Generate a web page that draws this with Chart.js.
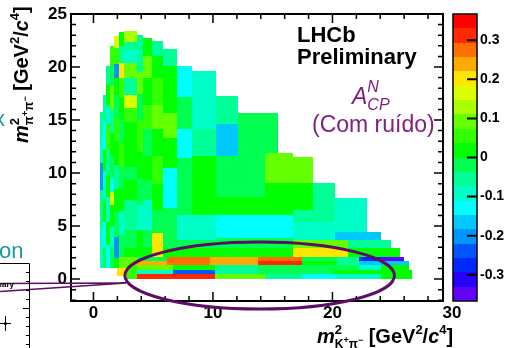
<!DOCTYPE html>
<html>
<head>
<meta charset="utf-8">
<script src="https://cdn.jsdelivr.net/npm/chart.js@4.4.1/dist/chart.umd.min.js"></script>
<style>
  html, body { margin: 0; padding: 0; background: #fff; }
</style>
</head>
<body>
<canvas id="dalitz" width="507" height="348"></canvas>
<script>
// axis ticks
const xTicks = [0, 10, 20, 30];
const yTicks = [0, 5, 10, 15, 20, 25];
const zTicks = [-0.3, -0.2, -0.1, 0, 0.1, 0.2, 0.3];
const xRange = [-1.88, 29.25];
const yRange = [-2.07, 25.0];
const zRange = [-0.367, 0.367];
const nBands = 20;

// bins: [m2(K+pi-) lo, hi, m2(pi+pi-) lo, hi, A_CP^N]
const binsLeft = [
  [0.54,0.79,1.04,4.8,-0.09],[0.54,0.79,4.8,8.4,-0.05],[0.54,0.79,8.4,10.9,-0.2],
  [0.54,0.79,10.9,13.3,-0.09],[0.54,0.79,13.3,15.8,-0.05],
  [0.79,1.04,1.04,3.0,-0.02],[0.79,1.04,3.0,5.4,-0.13],[0.79,1.04,5.4,7.5,0.02],
  [0.79,1.04,7.5,10.2,-0.09],[0.79,1.04,10.2,12.2,0.02],[0.79,1.04,12.2,14.8,-0.13],
  [0.79,1.04,14.8,17.4,-0.05],
  [1.04,1.38,1.04,3.2,-0.13],[1.04,1.38,3.2,5.4,0.02],[1.04,1.38,5.4,7.7,-0.09],
  [1.04,1.38,7.7,9.8,0.02],[1.04,1.38,9.8,12.2,-0.05],[1.04,1.38,12.2,14.6,0.05],
  [1.04,1.38,14.6,16.4,-0.09],[1.04,1.38,16.4,18.4,0.02],[1.04,1.38,18.4,20.1,-0.05],
  [1.38,1.71,1.04,3.0,-0.02],[1.38,1.71,3.0,5.0,-0.09],[1.38,1.71,5.0,7.0,0.02],
  [1.38,1.71,7.0,8.2,0.15],[1.38,1.71,8.2,9.5,-0.13],[1.38,1.71,9.5,11.6,-0.02],
  [1.38,1.71,11.6,13.8,0.02],[1.38,1.71,13.8,16.0,-0.05],[1.38,1.71,16.0,18.2,0.09],
  [1.38,1.71,18.2,20.2,-0.02],[1.38,1.71,20.2,22.0,0.05],
  [1.71,2.13,1.04,2.0,0.02],[1.71,2.13,2.0,4.0,-0.2],[1.71,2.13,4.0,6.3,-0.02],
  [1.71,2.13,6.3,8.5,0.02],[1.71,2.13,8.5,10.8,-0.05],[1.71,2.13,10.8,13.0,0.02],
  [1.71,2.13,13.0,15.2,0.05],[1.71,2.13,15.2,17.4,-0.02],[1.71,2.13,17.4,19.0,0.02],
  [1.71,2.13,19.0,20.3,-0.22],[1.71,2.13,20.3,21.8,0.05],[1.71,2.13,21.8,22.9,0.17],
  [2.13,2.55,2.08,4.2,-0.02],[2.13,2.55,4.2,6.4,-0.09],[2.13,2.55,6.4,8.6,0.02],
  [2.13,2.55,8.6,10.6,-0.02],[2.13,2.55,10.6,12.8,0.05],[2.13,2.55,12.8,15.0,-0.02],
  [2.13,2.55,15.0,17.2,0.02],[2.13,2.55,17.2,19.0,0.05],[2.13,2.55,19.0,20.4,0.19],
  [2.13,2.55,20.4,22.0,-0.05],[2.13,2.55,22.0,23.3,0.02],
  [2.55,3.63,2.92,4.6,-0.02],[2.55,3.63,4.6,7.5,-0.05],[2.55,3.63,7.5,9.3,0.02],
  [2.55,3.63,9.3,10.6,-0.02],[2.55,3.63,10.6,14.8,0.02],[2.55,3.63,14.8,16.1,0.04],
  [2.55,3.63,16.1,17.4,0.18],[2.55,3.63,17.4,19.0,-0.05],[2.55,3.63,19.0,20.4,0.09],
  [2.55,3.63,20.4,21.6,-0.09],[2.55,3.63,21.6,22.4,-0.05],[2.55,3.63,22.4,23.4,0.13],
  [3.63,4.14,2.92,4.6,0.02],[3.63,4.14,4.6,7.0,-0.09],[3.63,4.14,7.0,9.5,-0.02],
  [3.63,4.14,9.5,12.0,0.02],[3.63,4.14,12.0,15.0,0.05],[3.63,4.14,15.0,17.5,-0.02],
  [3.63,4.14,17.5,19.5,0.09],[3.63,4.14,19.5,21.5,-0.04],[3.63,4.14,21.5,23.0,-0.07],
  [4.14,4.89,2.92,4.6,-0.02],[4.14,4.89,4.6,7.45,-0.11],[4.14,4.89,7.45,9.3,-0.02],
  [4.14,4.89,9.3,11.6,0.02],[4.14,4.89,11.6,14.2,-0.02],[4.14,4.89,14.2,16.4,0.05],
  [4.14,4.89,16.4,19.0,0.02],[4.14,4.89,19.0,21.0,0.09],[4.14,4.89,21.0,22.7,0.02],
  [4.89,5.81,2.08,4.3,0.19],[4.89,5.81,4.3,6.5,-0.02],[4.89,5.81,6.5,9.0,0.02],
  [4.89,5.81,9.0,11.6,0.05],[4.89,5.81,11.6,14.2,0.02],[4.89,5.81,14.2,16.4,0.09],
  [4.89,5.81,16.4,19.0,0.05],[4.89,5.81,19.0,21.0,0.02],[4.89,5.81,21.0,22.5,-0.05],
  [5.81,6.98,3.68,6.7,-0.03],[5.81,6.98,6.7,10.5,-0.13],[5.81,6.98,10.5,13.3,0.02],
  [5.81,6.98,13.3,15.7,0.1],[5.81,6.98,15.7,17.2,0.02],[5.81,6.98,17.2,20.1,0.02],
  [5.81,6.98,20.1,21.7,-0.05]
];

const binsRight = [
  [6.98,8.23,6.04,11.4,-0.02],[6.98,8.23,11.4,14.2,-0.13],[6.98,8.23,14.2,17.2,-0.03],
  [6.98,8.23,17.2,20.1,-0.13],
  [8.23,10.23,6.04,7.7,0.02],[8.23,10.23,7.7,11.6,0.01],[8.23,10.23,11.6,14.2,-0.05],
  [8.23,10.23,14.2,16.6,-0.08],[8.23,10.23,16.6,19.6,-0.09],
  [10.23,12.07,6.04,7.7,0.02],[10.23,12.07,7.7,10.2,-0.03],[10.23,12.07,10.2,11.6,-0.02],
  [10.23,12.07,11.6,14.6,-0.18],[10.23,12.07,14.6,17.3,-0.05],
  [12.07,14.33,6.04,7.7,0.02],[12.07,14.33,7.7,11.9,-0.03],[12.07,14.33,11.9,15.7,-0.02],
  [14.33,15.41,6.04,9.1,0.02],[14.33,15.41,9.1,11.9,0.09],[14.33,15.41,11.9,15.7,-0.02],
  [15.41,16.67,6.04,9.1,0.02],[15.41,16.67,9.1,11.9,0.09],
  [16.67,18.34,5.38,6.5,-0.06],[16.67,18.34,6.5,9.1,0.02],[16.67,18.34,9.1,11.5,0.09],
  [18.34,20.2,5.38,9.06,-0.055],
  [20.2,22.93,4.43,7.64,-0.09],[20.2,24.1,3.68,4.43,-0.165],
  [16.67,20.2,3.68,5.38,-0.09],[6.98,10.23,3.68,6.04,-0.09],[10.23,16.67,3.87,6.04,-0.13],
  [5.81,10.23,2.92,3.68,-0.03],[10.23,16.67,2.92,3.87,-0.02],
  [16.67,21.26,2.92,3.68,0.09],[21.26,24.93,2.92,3.68,-0.055]
];

const binsLow = [
  [2.55,4.89,2.08,2.92,0.02],[5.81,16.67,2.08,2.92,0.02],[16.67,21.26,2.08,2.92,0.2],
  [21.26,25.69,2.08,2.92,0.02],[2.13,2.80,1.04,2.08,0.09],[1.96,2.80,0.28,1.04,0.2],
  [2.80,3.63,1.70,2.08,0.09],[3.63,6.14,1.70,2.08,-0.03],[6.14,9.73,1.70,2.08,0.28],
  [9.73,13.74,1.70,2.08,0.24],[13.74,17.42,1.70,2.08,0.28],[17.42,20.34,1.70,2.08,-0.015],
  [20.34,22.26,1.70,2.08,-0.07],[22.26,24.1,1.70,2.08,-0.275],[24.1,26.02,1.70,2.08,-0.34],
  [2.80,3.63,1.32,1.70,0.09],[3.63,6.14,1.32,1.70,0.24],[6.14,9.73,1.32,1.70,0.28],
  [9.73,13.74,1.32,1.70,0.24],[13.74,17.42,1.32,1.70,0.31],[17.42,20.34,1.32,1.70,0.01],
  [20.34,22.26,1.32,1.70,-0.07],[22.26,26.44,1.32,1.70,-0.165],
  [2.80,3.63,0.85,1.32,0.05],[3.63,6.64,0.85,1.32,0.09],[6.64,10.15,0.85,1.32,0.02],
  [10.15,13.74,0.85,1.32,-0.055],[13.74,22.26,0.85,1.32,-0.02],[22.26,24.1,0.85,1.32,-0.11],
  [24.1,26.44,0.85,1.32,0.01],
  [2.80,3.63,0.47,0.85,0.05],[3.63,6.64,0.47,0.85,-0.09],[6.64,10.15,0.47,0.85,-0.25],
  [10.15,13.74,0.47,0.85,-0.07],[13.74,20.01,0.47,0.85,-0.02],[20.01,24.1,0.47,0.85,0.01],
  [24.1,26.69,0.47,0.85,0.02],
  [2.80,3.63,0.05,0.47,0.05],[3.63,6.64,0.05,0.47,0.31],[6.64,10.15,0.05,0.47,0.31],
  [10.15,14.33,0.05,0.47,0.1],[14.33,17.42,0.05,0.47,-0.06],[17.42,20.34,0.05,0.47,-0.13],
  [20.34,24.1,0.05,0.47,-0.08],[24.1,26.69,0.05,0.47,0.02]
];

// highlighted region (ellipse) and zoom lines, in axis units
const ellipseCentre = [13.91, 0.33];
const ellipseRadii = [11.28, 3.16];
const zoomFrom = [2.72, -0.38];
const zoomTo = [[-7.81, -0.42], [-7.81, -1.18]];

// ROOT-like rainbow palette, most negative first
const palette = ['#6400ff','#2800ff','#0028ff','#0055ff','#0096ff','#00c8ff','#00ffff','#00ffc8',
  '#00ff96','#00ff50','#00ff00','#32ff00','#64ff00','#aaff00','#dcff00','#ffe600','#ffaa00',
  '#ff6e00','#ff2800','#ff0000'];

const F = '"Liberation Sans", Arial, Helvetica, sans-serif';
const purple = '#80207f';
const teal = '#1c98a3';

function colourOf(v) {
  let i = Math.floor((v - zRange[0]) / (zRange[1] - zRange[0]) * nBands);
  return palette[Math.max(0, Math.min(nBands - 1, i))];
}

function runs(ctx, x, y, list) {
  let cx = x;
  for (const r of list) {
    if (r.stack) {
      cx += Math.max(...r.stack.map(s => runs(ctx, cx, y, s)));
    } else {
      ctx.font = r.f;
      ctx.fillText(r.t, cx, y + (r.dy || 0));
      cx += ctx.measureText(r.t).width;
    }
  }
  return cx - x;
}

function titleRuns(sub) {
  const big = `bold 20px ${F}`, it = `italic bold 20px ${F}`, sup = `bold 13px ${F}`;
  return [
    {t: 'm', f: it},
    {stack: [[{t: '2', f: sup, dy: -9}], sub]},
    {t: ' [GeV', f: big}, {t: '2', f: sup, dy: -9}, {t: '/', f: big},
    {t: 'c', f: it}, {t: '4', f: sup, dy: -9}, {t: ']', f: big}
  ];
}
const s12 = `bold 12px ${F}`, s8 = `bold 9px ${F}`;
const subPiPi = [{t: 'π', f: s12, dy: 5}, {t: '+', f: s8, dy: 0}, {t: 'π', f: s12, dy: 5}, {t: '−', f: s8, dy: 0}];
const subKPi = [{t: 'K', f: s12, dy: 5}, {t: '+', f: s8, dy: 0}, {t: 'π', f: s12, dy: 5}, {t: '−', f: s8, dy: 0}];

const cells = [...binsLeft, ...binsRight, ...binsLow].map(b => ({
  x: (b[0] + b[1]) / 2, y: (b[2] + b[3]) / 2, x0: b[0], x1: b[1], y0: b[2], y1: b[3], v: b[4]
}));

const dalitzPlot = {
  id: 'dalitzPlot',
  beforeDraw(chart) {
    const ctx = chart.ctx;
    ctx.save();
    ctx.fillStyle = '#fff';
    ctx.fillRect(0, 0, chart.width, chart.height);
    ctx.restore();
  },
  beforeDatasetsDraw(chart) {
    const {ctx, scales: {x, y}} = chart;
    ctx.save();
    chart.data.datasets[0].data.forEach(c => {
      const l = Math.round(x.getPixelForValue(c.x0)), r = Math.round(x.getPixelForValue(c.x1));
      const t = Math.round(y.getPixelForValue(c.y1)), b = Math.round(y.getPixelForValue(c.y0));
      ctx.fillStyle = colourOf(c.v);
      ctx.fillRect(l, t, r - l, b - t);
    });
    ctx.restore();
  },
  afterDraw(chart) {
    const {ctx, chartArea: a, scales: {x, y, z}} = chart;
    ctx.save();
    ctx.strokeStyle = '#000';
    ctx.fillStyle = '#000';

    // ticks (inside the frame, all four sides)
    ctx.lineWidth = 1.5;
    ctx.beginPath();
    for (let v = -2; v <= 30; v += 2) {
      if (v < xRange[0] || v > xRange[1]) continue;
      const p = x.getPixelForValue(v), len = v % 10 === 0 ? 9 : 5;
      ctx.moveTo(p, a.bottom); ctx.lineTo(p, a.bottom - len);
      ctx.moveTo(p, a.top); ctx.lineTo(p, a.top + len);
    }
    for (let v = -2; v <= 25; v += 1) {
      if (v < yRange[0] || v > yRange[1]) continue;
      const p = y.getPixelForValue(v), len = v % 5 === 0 ? 9 : 5;
      ctx.moveTo(a.left, p); ctx.lineTo(a.left + len, p);
      ctx.moveTo(a.right, p); ctx.lineTo(a.right - len, p);
    }
    ctx.stroke();

    // frame
    ctx.lineWidth = 2;
    ctx.strokeRect(a.left, a.top, a.right - a.left, a.bottom - a.top);

    // tick labels
    ctx.font = `bold 17px ${F}`;
    ctx.textAlign = 'right';
    ctx.textBaseline = 'middle';
    yTicks.forEach(v => ctx.fillText(String(v), a.left - 4, y.getPixelForValue(v)));
    ctx.textAlign = 'center';
    ctx.textBaseline = 'top';
    xTicks.forEach(v => ctx.fillText(String(v), x.getPixelForValue(v), a.bottom + 4));

    // axis titles
    ctx.textAlign = 'left';
    ctx.textBaseline = 'alphabetic';
    runs(ctx, 317, 343, titleRuns(subKPi));
    ctx.save();
    ctx.translate(28, 143);
    ctx.rotate(-Math.PI / 2);
    runs(ctx, 0, 0, titleRuns(subPiPi));
    ctx.restore();

    // colour bar
    const bl = a.right + 10, br = a.right + 34;
    const step = (zRange[1] - zRange[0]) / nBands;
    for (let i = 0; i < nBands; i++) {
      const lo = z.getPixelForValue(zRange[0] + i * step), hi = z.getPixelForValue(zRange[0] + (i + 1) * step);
      ctx.fillStyle = palette[i];
      ctx.fillRect(bl, Math.round(hi), br - bl, Math.round(lo) - Math.round(hi));
    }
    ctx.lineWidth = 1.5;
    ctx.strokeRect(bl, z.top, br - bl, z.bottom - z.top);
    ctx.lineWidth = 2;
    ctx.beginPath();
    zTicks.forEach(v => { const p = z.getPixelForValue(v); ctx.moveTo(br, p); ctx.lineTo(br - 10, p); });
    ctx.stroke();
    ctx.fillStyle = '#000';
    ctx.font = `bold 14px ${F}`;
    ctx.textBaseline = 'middle';
    zTicks.forEach(v => ctx.fillText(v === 0 ? '0' : v.toFixed(1), br + 3, z.getPixelForValue(v)));

    // LHCb label
    ctx.textBaseline = 'alphabetic';
    ctx.font = `bold 22px ${F}`;
    ctx.fillText('LHCb', 297, 42);
    ctx.fillText('Preliminary', 297, 64);

    // observable label
    ctx.fillStyle = purple;
    runs(ctx, 352, 104, [
      {t: 'A', f: `italic 23px ${F}`},
      {stack: [[{t: 'N', f: `italic 16px ${F}`, dy: -12}], [{t: 'CP', f: `italic 16px ${F}`, dy: 6}]]}
    ]);
    ctx.font = `23px ${F}`;
    ctx.fillText('(Com ruído)', 312, 132);

    // highlighted region and zoom lines
    const cx = x.getPixelForValue(ellipseCentre[0]), cy = y.getPixelForValue(ellipseCentre[1]);
    const rx = x.getPixelForValue(ellipseCentre[0] + ellipseRadii[0]) - cx;
    const ry = cy - y.getPixelForValue(ellipseCentre[1] + ellipseRadii[1]);
    ctx.strokeStyle = '#5e0c66';
    ctx.lineWidth = 3;
    ctx.beginPath();
    ctx.ellipse(cx, cy, rx, ry, 0, 0, Math.PI * 2);
    ctx.stroke();
    ctx.lineWidth = 1.5;
    ctx.beginPath();
    zoomTo.forEach(p => {
      ctx.moveTo(x.getPixelForValue(zoomFrom[0]), y.getPixelForValue(zoomFrom[1]));
      ctx.lineTo(x.getPixelForValue(p[0]), y.getPixelForValue(p[1]));
    });
    ctx.stroke();

    // neighbouring panel, cropped at the left edge
    ctx.fillStyle = teal;
    ctx.font = `22px ${F}`;
    ctx.textAlign = 'right';
    ctx.fillText('x', 5, 126);
    ctx.textAlign = 'left';
    ctx.fillText('on', -1, 258);
    ctx.strokeStyle = '#000';
    ctx.fillStyle = '#000';
    ctx.lineWidth = 1;
    ctx.beginPath();
    ctx.moveTo(0, 263.5); ctx.lineTo(29.5, 263.5); ctx.lineTo(29.5, 348);
    for (let k = 1; k < 10; k++) {
      const py = 263.5 + k * 9;
      ctx.moveTo(29.5, py); ctx.lineTo(k % 5 === 0 ? 23 : 26, py);
    }
    ctx.moveTo(0, 323.5); ctx.lineTo(11, 323.5);
    ctx.moveTo(5.5, 316); ctx.lineTo(5.5, 331);
    ctx.stroke();
    ctx.beginPath();
    ctx.arc(5.5, 323.5, 1.6, 0, Math.PI * 2);
    ctx.fill();
    ctx.font = `bold 8px ${F}`;
    ctx.textAlign = 'right';
    ctx.fillText('Preliminary', 14, 287);
    ctx.restore();
  }
};

new Chart(document.getElementById('dalitz'), {
  type: 'scatter',
  data: {
    datasets: [{ data: cells, pointRadius: 0, pointHoverRadius: 0 }]
  },
  options: {
    responsive: false,
    animation: false,
    devicePixelRatio: 1,
    layout: { padding: { left: 71, right: 64, top: 14, bottom: 47 } },
    plugins: { legend: { display: false }, tooltip: { enabled: false } },
    scales: {
      x: { type: 'linear', min: xRange[0], max: xRange[1], display: false },
      y: { type: 'linear', min: yRange[0], max: yRange[1], display: false },
      z: { type: 'linear', position: 'right', min: zRange[0], max: zRange[1], display: false }
    }
  },
  plugins: [dalitzPlot]
});
</script>
</body>
</html>
